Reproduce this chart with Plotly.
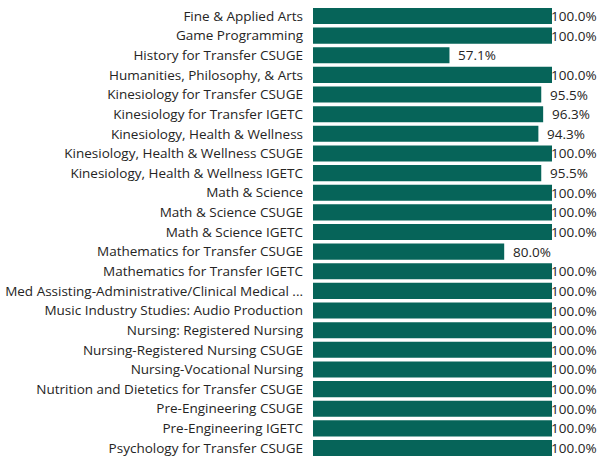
import plotly.graph_objects as go

categories = [
    "Fine & Applied Arts",
    "Game Programming",
    "History for Transfer CSUGE",
    "Humanities, Philosophy, & Arts",
    "Kinesiology for Transfer CSUGE",
    "Kinesiology for Transfer IGETC",
    "Kinesiology, Health & Wellness",
    "Kinesiology, Health & Wellness CSUGE",
    "Kinesiology, Health & Wellness IGETC",
    "Math & Science",
    "Math & Science CSUGE",
    "Math & Science IGETC",
    "Mathematics for Transfer CSUGE",
    "Mathematics for Transfer IGETC",
    "Med Assisting-Administrative/Clinical Medical ...",
    "Music Industry Studies: Audio Production",
    "Nursing: Registered Nursing",
    "Nursing-Registered Nursing CSUGE",
    "Nursing-Vocational Nursing",
    "Nutrition and Dietetics for Transfer CSUGE",
    "Pre-Engineering CSUGE",
    "Pre-Engineering IGETC",
    "Psychology for Transfer CSUGE",
]
values = [100.0, 100.0, 57.1, 100.0, 95.5, 96.3, 94.3, 100.0, 95.5, 100.0, 100.0, 100.0,
          80.0, 100.0, 100.0, 100.0, 100.0, 100.0, 100.0, 100.0, 100.0, 100.0, 100.0]

FONT = "Open Sans"
TXT = "#252423"
FS = 13.5

fig = go.Figure(go.Bar(
    x=values, y=categories, orientation="h",
    marker=dict(color="#066459", line=dict(width=0)),
    hoverinfo="x+y",
))

# data labels: placed just past bar end; labels that would not fit at the
# right edge are nudged back over the bar end (as in the original visual)
annotations = []
for cat, v in zip(categories, values):
    annotations.append(dict(
        x=v, y=cat, xref="x", yref="y",
        text=f"{v:.1f}%", showarrow=False,
        xanchor="left", yanchor="middle",
        xshift=7 if v < 99 else -3,
        font=dict(family=FONT, size=FS, color=TXT),
    ))

fig.update_layout(
    width=600, height=462,
    margin=dict(l=313, r=48, t=5, b=3, autoexpand=False),
    paper_bgcolor="white", plot_bgcolor="white",
    bargap=0.18,
    showlegend=False,
    font=dict(family=FONT, size=FS, color=TXT),
    annotations=annotations,
)
fig.update_xaxes(range=[0, 100], visible=False, showgrid=False, zeroline=False,
                 automargin=False)
fig.update_yaxes(autorange="reversed", showgrid=False, zeroline=False, showline=False,
                 ticks="", ticklabelstandoff=9, automargin=False,
                 tickfont=dict(family=FONT, size=FS, color=TXT))

fig.write_html("out.html",
               config={"displayModeBar": False},
               post_script="document.body.style.margin='0';document.body.style.overflow='hidden';")
